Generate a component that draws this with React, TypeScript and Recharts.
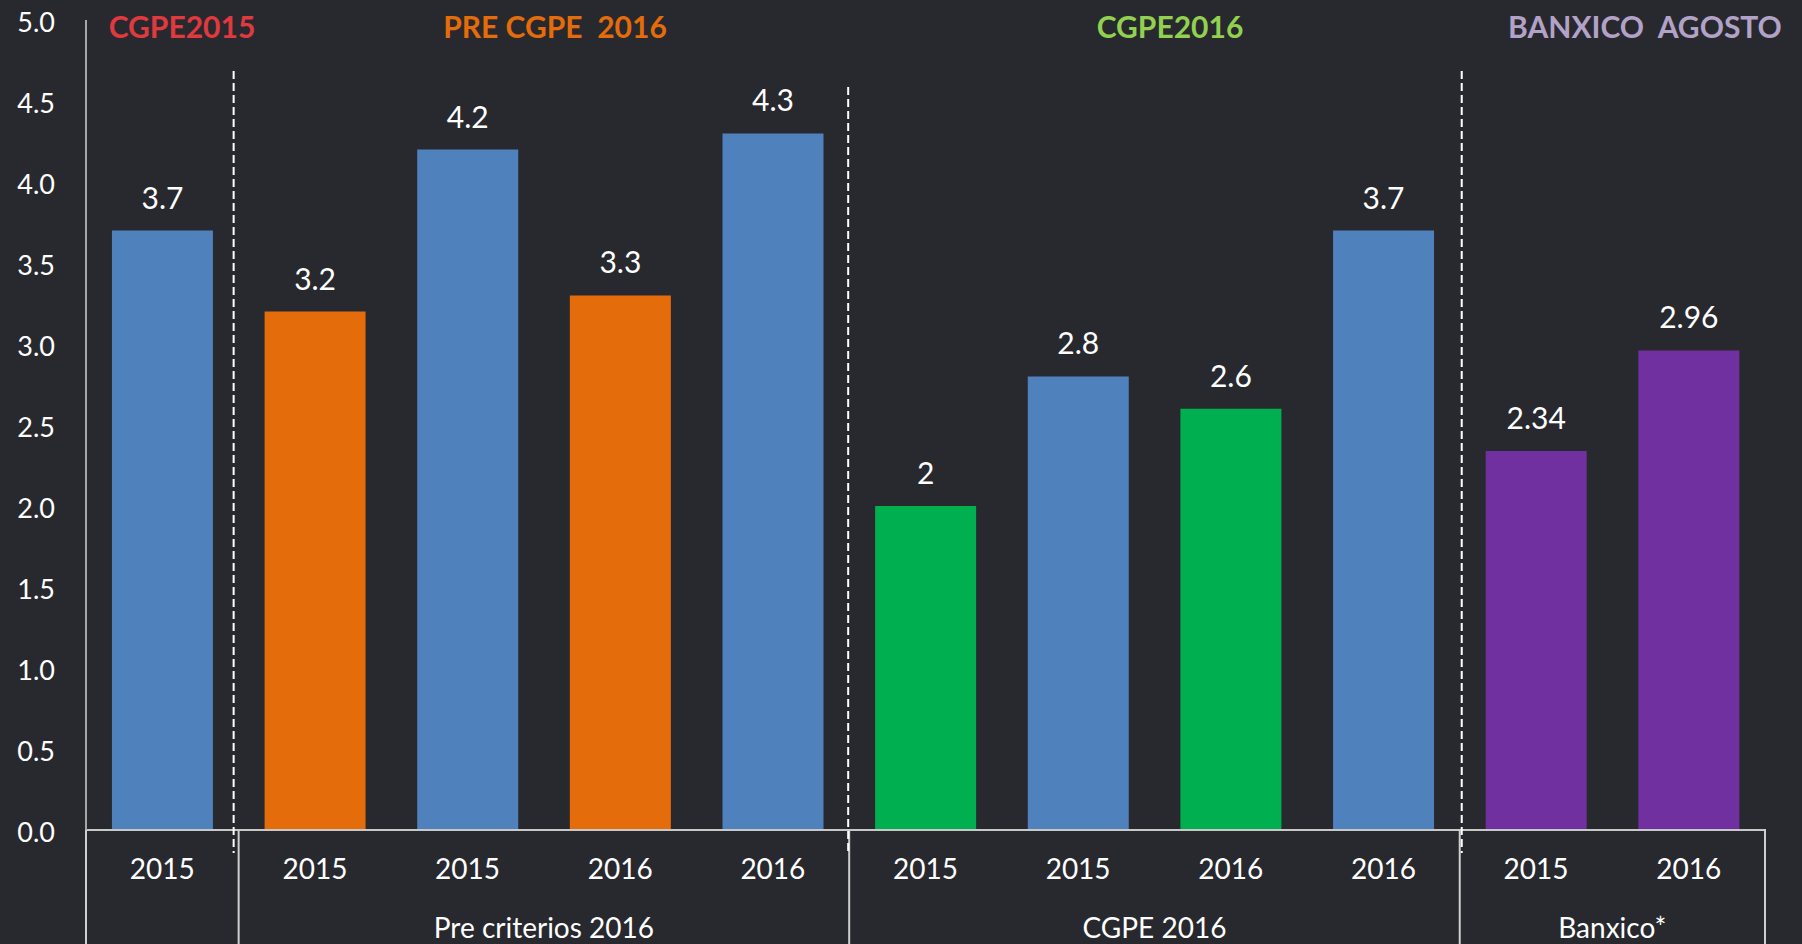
import { BarChart, Bar, XAxis, YAxis, Cell, LabelList } from 'recharts';

const BLUE = '#4f81bd';
const ORANGE = '#e46c0a';
const GREEN = '#00b050';
const PURPLE = '#7030a0';

// one id per bar, years repeat so they can't be the category key
const ids = ['a1', 'a2', 'a3', 'a4', 'a5', 'a6', 'a7', 'a8', 'a9', 'a10', 'a11'];
const years = ['2015', '2015', '2015', '2016', '2016', '2015', '2015', '2016', '2016', '2015', '2016'];
const values = [3.7, 3.2, 4.2, 3.3, 4.3, 2, 2.8, 2.6, 3.7, 2.34, 2.96];
const barColors = [BLUE, ORANGE, BLUE, ORANGE, BLUE, GREEN, BLUE, GREEN, BLUE, PURPLE, PURPLE];

const groupStarts = [0, 1, 5, 9];
const groupLabels = ['', 'Pre criterios 2016', 'CGPE 2016', 'Banxico*'];

const headers = ['CGPE2015', 'PRE CGPE  2016', 'CGPE2016', 'BANXICO  AGOSTO'];
const headerColors = ['#e0393e', '#e46c0a', '#92d050', '#b3a2c7'];

const yTicks = [0, 0.5, 1, 1.5, 2, 2.5, 3, 3.5, 4, 4.5, 5];

// layout
const W = 1802;
const H = 944;
const PLOT_LEFT = 86;
const PLOT_RIGHT = 1765;
const PLOT_TOP = 20;
const AXIS_Y = 830;
const BAND = (PLOT_RIGHT - PLOT_LEFT) / ids.length;
const HEADER_X = [182, 555, 1170, 1645];
const DASH_SHIFT = [-5, -1, 2];
const DASH_TOP = [71, 87, 71];
const FONT = 'Lato, "Open Sans", sans-serif';
const BG = '#28292f';

const data = ids.map((id, i) => ({ id, value: values[i] }));

function XTick(props: any) {
  const { x } = props;
  const i: number = props.index ?? props.payload?.index ?? 0;
  const left = x - BAND / 2;
  const g = groupStarts.indexOf(i);
  const end = g >= 0 ? (groupStarts[g + 1] ?? ids.length) : 0;
  return (
    <g>
      <text x={x} y={879} textAnchor="middle" fill="#fff" fontSize={28} fontFamily={FONT}>
        {years[i]}
      </text>
      {g >= 0 && (
        <line x1={left} x2={left} y1={AXIS_Y} y2={H} stroke="#cfcfcf" strokeWidth={2} />
      )}
      {g >= 0 && groupLabels[g] && (
        <text x={left + ((end - i) * BAND) / 2} y={938} textAnchor="middle" fill="#fff"
          fontSize={28} fontFamily={FONT}>
          {groupLabels[g]}
        </text>
      )}
      {g > 0 && (
        <line x1={left + DASH_SHIFT[g - 1]} x2={left + DASH_SHIFT[g - 1]}
          y1={DASH_TOP[g - 1]} y2={853} stroke="#fff" strokeWidth={2} strokeDasharray="8 4" />
      )}
      {i === ids.length - 1 && (
        <line x1={x + BAND / 2} x2={x + BAND / 2} y1={AXIS_Y - 1} y2={H} stroke="#cfcfcf" strokeWidth={2} />
      )}
    </g>
  );
}

function YTick(props: any) {
  const { x, y, payload } = props;
  return (
    <text x={x} y={y} dy={12} textAnchor="end" fill="#fff" fontSize={27} fontFamily={FONT}>
      {Number(payload.value).toFixed(1)}
    </text>
  );
}

export default function App() {
  return (
    <div style={{ position: 'absolute', left: 0, top: 0, width: W, height: H, background: BG }}>
      <BarChart width={W} height={H} data={data} barCategoryGap="17%"
        margin={{ top: PLOT_TOP, right: W - PLOT_RIGHT, bottom: 0, left: 0 }}>
        <XAxis dataKey="id" height={H - AXIS_Y} interval={0} tickLine={false}
          axisLine={{ stroke: '#c8c8c8', strokeWidth: 2 }} tick={<XTick />} />
        <YAxis width={PLOT_LEFT} domain={[0, 5]} ticks={yTicks} tickLine={false} tickSize={0}
          tickMargin={31} axisLine={{ stroke: '#a6a6a6', strokeWidth: 2 }} tick={<YTick />} />
        <Bar dataKey="value" isAnimationActive={false}>
          {data.map((d, i) => <Cell key={d.id} fill={barColors[i]} />)}
          <LabelList dataKey="value" position="top" offset={22} fill="#fff"
            fontSize={30} fontFamily={FONT} />
        </Bar>
      </BarChart>
      <svg width={W} height={60} style={{ position: 'absolute', left: 0, top: 0, pointerEvents: 'none' }}>
        {headers.map((h, i) => (
          <text key={h} x={HEADER_X[i]} y={38} textAnchor="middle" fill={headerColors[i]}
            fontSize={30} fontWeight="bold" fontFamily={FONT} xmlSpace="preserve">
            {h}
          </text>
        ))}
      </svg>
    </div>
  );
}
